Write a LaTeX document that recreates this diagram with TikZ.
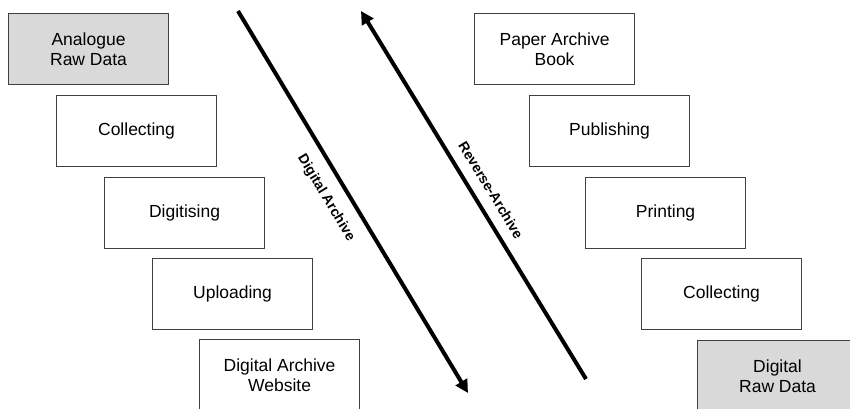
\documentclass[tikz,border=0pt]{standalone}
\usepackage{fontspec}
\setmainfont{Liberation Sans}
\usetikzlibrary{arrows.meta}
\begin{document}
\begin{tikzpicture}[x=1pt,y=-1pt,
  stagebox/.style={draw=black!75, line width=1.1pt, fill=white, anchor=north west,
    minimum width=160pt, minimum height=71pt, inner sep=0pt, align=center,
    font=\fontsize{17.5}{20.5}\selectfont},
  rawbox/.style={stagebox, fill=black!15},
  flowarrow/.style={line width=4pt, -{Triangle[length=13pt,width=13pt]}},
  flowlabel/.style={font=\bfseries\fontsize{14}{16}\selectfont, inner sep=0pt}]
\useasboundingbox (0,0) rectangle (850,408);
\clip (0,0) rectangle (850,408);
% left column
\node[rawbox]   (anal) at (8,13)   {Analogue\\Raw Data};
\node[stagebox] (lcol) at (56,95)  {Collecting};
\node[stagebox] (dig)  at (104,177) {Digitising};
\node[stagebox] (upl)  at (152,258) {Uploading};
\node[stagebox] (daw)  at (199,339) {Digital Archive\\Website};
% right column
\node[stagebox] (pab)  at (474,13)  {Paper Archive\\Book};
\node[stagebox] (pub)  at (529,95)  {Publishing};
\node[stagebox] (prt)  at (585,177) {Printing};
\node[stagebox] (rcol) at (641,258) {Collecting};
\node[rawbox]   (drd)  at (697,340) {Digital\\Raw Data};
% arrows
\coordinate (a1s) at (238,11);
\coordinate (a1e) at (468,393);
\coordinate (a2s) at (586,379);
\coordinate (a2e) at (361,11);
\draw[flowarrow] (a1s) -- (a1e);
\draw[flowarrow] (a2s) -- (a2e);
\node[flowlabel, rotate=-59] (lda) at (326,198) {Digital Archive};
\node[flowlabel, rotate=-58.6] (lra) at (491,190) {Reverse-Archive};
\end{tikzpicture}
\end{document}
